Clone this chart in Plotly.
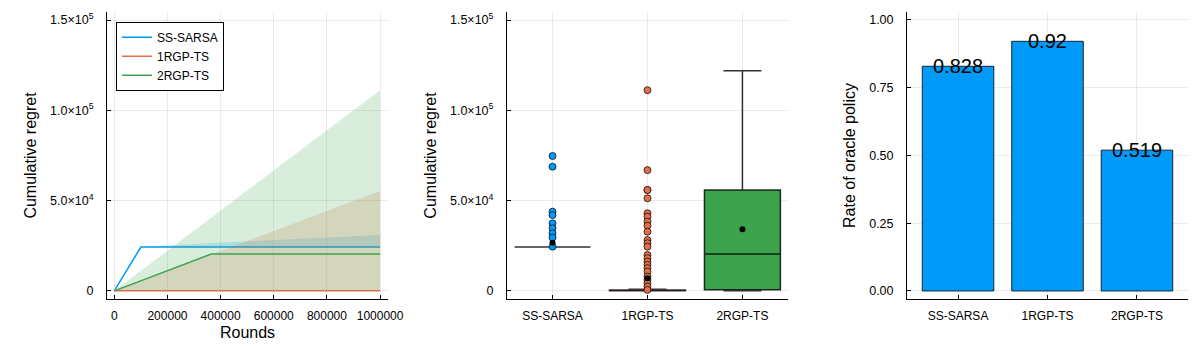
import plotly.graph_objects as go

# left panel: cumulative regret over rounds (mean line + ribbon)
rounds = [0, 100000, 365000, 1000000]
sarsa_mean = [0, 24300, 24300, 24300]
sarsa_low = [0, 24300, 24300, 24300]
sarsa_high = [0, 24300, 26500, 31000]
rgp1_mean = [0, 0, 0, 0]
rgp1_low = [0, 0, 0, 0]
rgp1_high = [0, 5500, 20200, 55300]
rgp2_mean = [0, 5600, 20400, 20400]
rgp2_low = [0, 0, 0, 0]
rgp2_high = [0, 11100, 40600, 111200]

# middle panel: box statistics, outliers and means
methods = ["SS-SARSA", "1RGP-TS", "2RGP-TS"]
box_q1 = [24300, 0, 550]
box_median = [24300, 150, 20400]
box_q3 = [24300, 450, 55900]
box_low = [24300, 0, 0]
box_high = [24300, 900, 122000]
box_mean = [26700, 7000, 34100]
sarsa_outliers = [74700, 68800, 43900, 42000, 37400, 34700, 31900, 29500, 24500]
rgp1_outliers = [111200, 66900, 55900, 55900, 51300, 43000, 41100, 38300, 36100, 32800,
                 28200, 26400, 24500, 19900, 18100, 16200, 14400, 12600, 10700, 7900,
                 6100, 4300, 2400, 550]

# right panel: rate of oracle policy
oracle_rate = [0.828, 0.92, 0.519]

colors = ["#009af9", "#e26f46", "#3da44d"]
ribbon = ["rgba(0,154,249,0.2)", "rgba(226,111,70,0.2)", "rgba(61,164,77,0.2)"]
FONT = "Liberation Sans"

fig = go.Figure()

series = [("SS-SARSA", sarsa_mean, sarsa_low, sarsa_high),
          ("1RGP-TS", rgp1_mean, rgp1_low, rgp1_high),
          ("2RGP-TS", rgp2_mean, rgp2_low, rgp2_high)]
for i, (name, m, lo, hi) in enumerate(series):
    fig.add_trace(go.Scatter(x=rounds, y=lo, mode="lines", line=dict(width=0),
                             showlegend=False, hoverinfo="skip", xaxis="x", yaxis="y"))
    fig.add_trace(go.Scatter(x=rounds, y=hi, mode="lines", line=dict(width=0),
                             fill="tonexty", fillcolor=ribbon[i],
                             showlegend=False, hoverinfo="skip", xaxis="x", yaxis="y"))
    fig.add_trace(go.Scatter(x=rounds, y=m, mode="lines", name=name,
                             line=dict(color=colors[i], width=1.5), xaxis="x", yaxis="y"))

# boxes
for i, name in enumerate(methods):
    fig.add_trace(go.Box(x=[name], q1=[box_q1[i]], median=[box_median[i]], q3=[box_q3[i]],
                         lowerfence=[box_low[i]], upperfence=[box_high[i]],
                         fillcolor=colors[i], line=dict(color="rgba(0,0,0,0.8)", width=1.5),
                         width=0.8, whiskerwidth=0.5, showlegend=False,
                         xaxis="x2", yaxis="y2"))

fig.add_trace(go.Scatter(x=["SS-SARSA"] * len(sarsa_outliers), y=sarsa_outliers, mode="markers",
                         marker=dict(color=colors[0], size=7, line=dict(color="rgba(0,0,0,0.7)", width=1)),
                         showlegend=False, xaxis="x2", yaxis="y2"))
fig.add_trace(go.Scatter(x=["1RGP-TS"] * len(rgp1_outliers), y=rgp1_outliers, mode="markers",
                         marker=dict(color=colors[1], size=7, line=dict(color="rgba(0,0,0,0.7)", width=1)),
                         showlegend=False, xaxis="x2", yaxis="y2"))
fig.add_trace(go.Scatter(x=methods, y=box_mean, mode="markers",
                         marker=dict(color="black", size=6),
                         showlegend=False, xaxis="x2", yaxis="y2"))

# bars
fig.add_trace(go.Bar(x=methods, y=oracle_rate, width=0.8, marker=dict(color=colors[0],
                     line=dict(color="rgba(0,0,0,0.8)", width=1)),
                     showlegend=False, xaxis="x3", yaxis="y3"))
for m, v in zip(methods, oracle_rate):
    fig.add_annotation(x=m, y=v, text=f"{v:g}", showarrow=False, xref="x3", yref="y3",
                       yanchor="middle", font=dict(size=20, color="black", family=FONT))

axis_common = dict(showline=True, linecolor="black", linewidth=1, mirror=False,
                   ticks="inside", ticklen=4, tickcolor="black", automargin=False,
                   showgrid=True, gridcolor="rgba(0,0,0,0.08)", zeroline=False)
xtick = dict(tickfont=dict(size=12, color="black", family=FONT), ticklabelstandoff=6)
ytick = dict(tickfont=dict(size=12.5, color="black", family=FONT), ticklabelstandoff=10)

reg_vals = [0, 50000, 100000, 150000]
reg_text = ["0", "5.0×10<sup>4</sup>", "1.0×10<sup>5</sup>", "1.5×10<sup>5</sup>"]
title_font = dict(size=16, color="black", family=FONT)
ydom = [0.1686, 0.9886]

fig.update_layout(
    width=1200, height=350,
    margin=dict(l=0, r=0, t=0, b=0, autoexpand=False),
    paper_bgcolor="white", plot_bgcolor="white",
    font=dict(family=FONT, color="black"),
    xaxis=dict(domain=[0.0825, 0.3167], range=[-27500, 1030000],
               tickvals=[0, 200000, 400000, 600000, 800000, 1000000], tickformat="d",
               title=dict(text="Rounds", font=title_font, standoff=4), **axis_common, **xtick),
    yaxis=dict(domain=ydom, range=[-4500, 154500],
               tickvals=reg_vals, ticktext=reg_text,
               title=dict(text="Cumulative regret", font=title_font, standoff=9), **axis_common, **ytick),
    xaxis2=dict(domain=[0.4158, 0.65], range=[-0.48, 2.48], type="category",
                anchor="y2", **axis_common, **xtick),
    yaxis2=dict(domain=ydom, range=[-4500, 154500], anchor="x2",
                tickvals=reg_vals, ticktext=reg_text,
                title=dict(text="Cumulative regret", font=title_font, standoff=9), **axis_common, **ytick),
    xaxis3=dict(domain=[0.7492, 0.9833], range=[-0.57, 2.57], type="category",
                anchor="y3", **axis_common, **xtick),
    yaxis3=dict(domain=ydom, range=[-0.0295, 1.028], anchor="x3",
                tickvals=[0, 0.25, 0.5, 0.75, 1.0], tickformat=".2f",
                title=dict(text="Rate of oracle policy", font=title_font, standoff=9), **axis_common, **ytick),
    legend=dict(x=0.09, y=0.961, xanchor="left", yanchor="top", traceorder="normal",
                bordercolor="black", borderwidth=1, bgcolor="white",
                font=dict(size=12, color="black", family=FONT),
                tracegroupgap=0, itemwidth=30),
    boxgap=0.2,
)

fig.write_html("out.html")
